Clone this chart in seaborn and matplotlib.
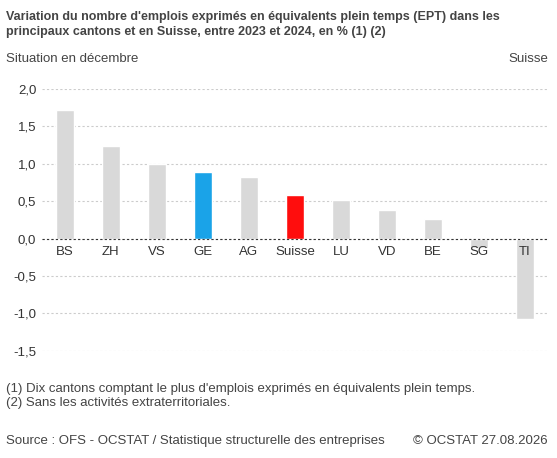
import matplotlib
matplotlib.use('Agg')
import matplotlib.pyplot as plt
import seaborn as sns
import pandas as pd

cantons = ['BS', 'ZH', 'VS', 'GE', 'AG', 'Suisse', 'LU', 'VD', 'BE', 'SG', 'TI']
valeurs = [1.72, 1.24, 0.99, 0.89, 0.82, 0.58, 0.52, 0.38, 0.26, -0.12, -1.08]
couleurs = ['#d9d9d9'] * len(cantons)
couleurs[3] = '#1aa3e8'
couleurs[5] = '#ff0d0d'

sns.set_style('white')
plt.rcParams['font.family'] = ['Liberation Sans', 'DejaVu Sans']

df = pd.DataFrame({'canton': cantons, 'valeur': valeurs})

fig = plt.figure(figsize=(5.57, 4.58), dpi=100)
ax = fig.add_axes([0.075, 0.234, 0.909, 0.572])
sns.barplot(data=df, x='canton', y='valeur', hue='canton', palette=couleurs,
            legend=False, width=0.38, ax=ax, saturation=1)

ax.set_ylim(-1.5, 2.0)
ax.set_yticks([-1.5, -1.0, -0.5, 0.0, 0.5, 1.0, 1.5, 2.0])
ax.set_yticklabels([f'{t:.1f}'.replace('.', ',') for t in ax.get_yticks()], fontsize=9.5, color='#333333')
ax.grid(axis='y', linestyle=(0, (2, 2)), color='#cccccc', linewidth=0.8)
ax.axhline(0, color='#333333', linewidth=0.8, linestyle=(0, (2, 2)))
ax.set_axisbelow(True)
for s in ax.spines.values():
    s.set_visible(False)
ax.set_xlabel('')
ax.set_ylabel('')
ax.set_xticks([])
ax.tick_params(axis='y', length=0, pad=4)
for i, c in enumerate(cantons):
    ax.text(i, -0.1, c, ha='center', va='top', fontsize=9.5, color='#333333')

fig.text(0.011, 0.975, "Variation du nombre d'emplois exprimés en équivalents plein temps (EPT) dans les\nprincipaux cantons et en Suisse, entre 2023 et 2024, en % (1) (2)",
         fontsize=9, fontweight='bold', color='#444444', va='top', linespacing=1.3)
fig.text(0.011, 0.872, 'Situation en décembre', fontsize=9.5, color='#444444', va='center')
fig.text(0.984, 0.872, 'Suisse', fontsize=9.5, color='#444444', va='center', ha='right')
fig.text(0.011, 0.135, "(1) Dix cantons comptant le plus d'emplois exprimés en équivalents plein temps.\n(2) Sans les activités extraterritoriales.",
         fontsize=9.5, color='#444444', va='center', linespacing=1.2)
fig.text(0.011, 0.038, 'Source : OFS - OCSTAT / Statistique structurelle des entreprises', fontsize=9.5, color='#444444', va='center')
fig.text(0.984, 0.038, '© OCSTAT 27.08.2026', fontsize=9.5, color='#444444', va='center', ha='right')

fig.savefig('out.png', dpi=100)
